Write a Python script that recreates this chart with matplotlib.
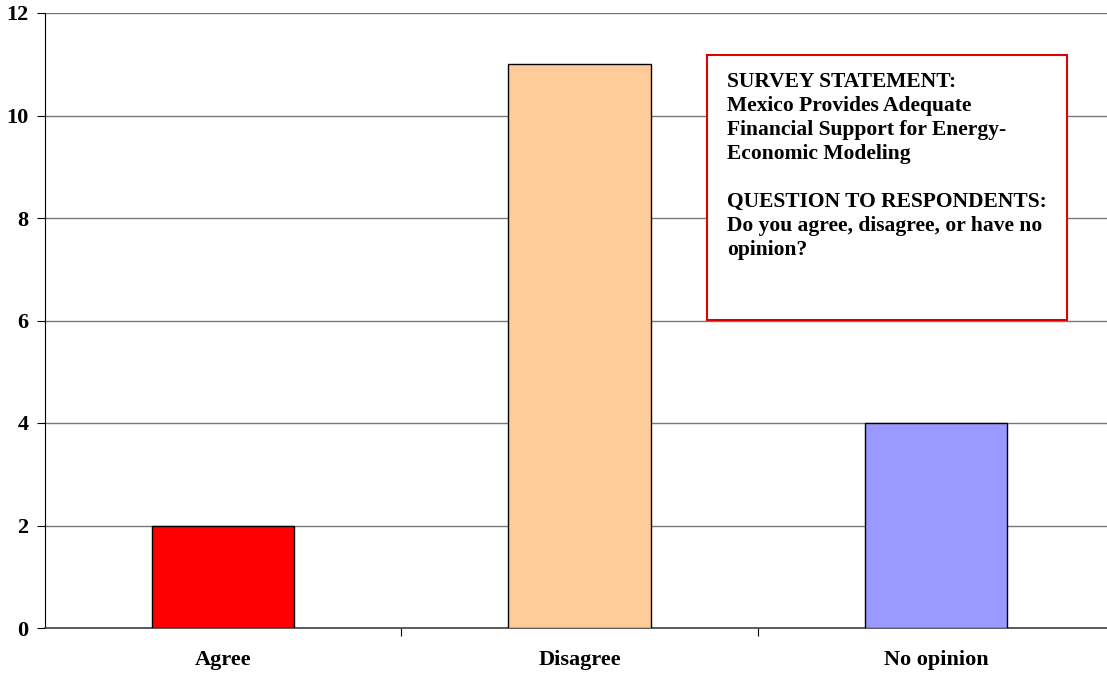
import matplotlib
matplotlib.use("Agg")
import matplotlib.pyplot as plt
from matplotlib.patches import Rectangle

# survey answers
categories = ["Agree", "Disagree", "No opinion"]
counts = [2, 11, 4]
bar_colors = ["#FF0000", "#FFCC99", "#9999FF"]
y_ticks = [0, 2, 4, 6, 8, 10, 12]

box_text = ("SURVEY STATEMENT:\n"
            "Mexico Provides Adequate\n"
            "Financial Support for Energy-\n"
            "Economic Modeling\n"
            "\n"
            "QUESTION TO RESPONDENTS:\n"
            "Do you agree, disagree, or have no\n"
            "opinion?")

W, H = 1107, 675
plt.rcParams["font.family"] = "Liberation Serif"
plt.rcParams["font.weight"] = "bold"

fig = plt.figure(figsize=(W / 100, H / 100), dpi=100)
# axes run a little past the right edge of the figure
ax = fig.add_axes([45 / W, 1 - 628 / H, (1114 - 45) / W, (628 - 13) / H])

x = list(range(len(categories)))
ax.bar(x, counts, width=0.4, color=bar_colors, edgecolor="black", linewidth=1.0, zorder=3)

ax.set_xlim(-0.5, 2.5)
ax.set_ylim(0, 12)
ax.set_yticks(y_ticks)
ax.set_yticklabels([str(t) for t in y_ticks], fontsize=16, fontweight="bold")
ax.yaxis.grid(True, color="#777777", linewidth=1.0, zorder=0)

# category labels centred under bars, tick marks between categories
ax.set_xticks([0.5, 1.5])
ax.set_xticklabels([])
ax.tick_params(axis="x", length=6, width=0.8, direction="out")
ax.tick_params(axis="y", length=6, width=0.8, direction="out", pad=6)
for xi, name in zip(x, categories):
    ax.text(xi, -0.62, name, ha="center", va="center", fontsize=16, fontweight="bold")

for side in ["top", "right"]:
    ax.spines[side].set_visible(False)
ax.spines["left"].set_color("black")
ax.spines["bottom"].set_color("#404040")
ax.spines["bottom"].set_linewidth(1.2)

# statement box
fig.patches.append(Rectangle((707 / W, 1 - 320 / H), (1067 - 707) / W, (320 - 55) / H,
                             transform=fig.transFigure, facecolor="white",
                             edgecolor="#E00000", linewidth=1.5, zorder=5))
fig.text(727 / W, 1 - 72 / H, box_text, ha="left", va="top", fontsize=15.5,
         fontweight="bold", linespacing=1.27, zorder=6)

fig.savefig("out.png", dpi=100)
